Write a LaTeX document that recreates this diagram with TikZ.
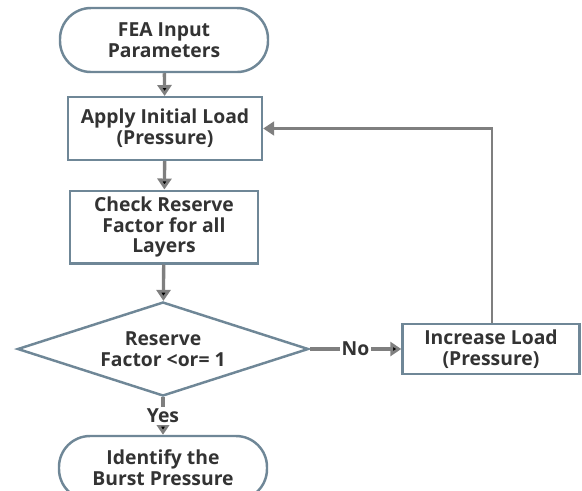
\documentclass[tikz,border=0pt]{standalone}
\usepackage{fontspec}
\setmainfont{Open Sans}
\usepackage{xcolor}
\usetikzlibrary{arrows.meta, shapes.geometric}
\definecolor{bd}{HTML}{6F8797}
\definecolor{ar}{HTML}{7F7F7F}
\definecolor{tx}{HTML}{333333}

\begin{document}
\begin{tikzpicture}[
            -{Triangle[length = 2.2mm, width = 2.8mm]}, % arrow head style
            node distance = 0.3cm, % distance between nodes
            font = \fontsize{11}{11.8}\selectfont\bfseries,
            text = tx
        ]

        \tikzstyle{every node}=[align = center]
        \tikzstyle{term}=[draw = bd, line width = 1.4pt, fill = white,
            rounded corners = 0.62cm, minimum width = 4.16cm, minimum height = 1.28cm]
        \tikzstyle{proc}=[draw = bd, line width = 1.4pt, fill = white]
        \tikzstyle{flow}=[draw = ar, line width = 1.9pt]

        \useasboundingbox (0, 0) rectangle (11.64, -9.8);

        \node[term] (input) [at={(3.28, -0.80)}] {FEA Input\\Parameters};
        \node[proc, minimum width = 3.88cm, minimum height = 1.25cm] (apply) [at={(3.30, -2.57)}] {Apply Initial Load\\(Pressure)};
        \node[proc, minimum width = 3.76cm, minimum height = 1.40cm] (check) [at={(3.28, -4.54)}] {Check Reserve\\Factor for all\\Layers};
        \node[proc, diamond, aspect = 3.1, inner sep = 0pt, minimum width = 5.82cm, minimum height = 1.88cm] (rf) [at={(3.26, -6.98)}] {Reserve\\Factor <or= 1};
        \node[proc, minimum width = 3.54cm, minimum height = 0.96cm] (incr) [at={(9.82, -6.98)}] {Increase Load\\(Pressure)};
        \node[term] (burst) [at={(3.26, -9.36)}] {Identify the\\Burst Pressure};
        \coordinate (turn) at (9.84, -2.57);

        \path[flow] (input) edge (apply);
        \path[flow] (apply) edge (check);
        \path[flow] (check) edge (rf);
        \path[flow] (rf) edge node[fill = white, inner sep = 1pt] {No} (incr);
        \path[flow] (rf) edge node[fill = white, inner sep = 1pt] {Yes} (burst);
        \draw[flow, line width = 1.2pt] (incr.north -| turn) |- (apply.east);
    \end{tikzpicture}
\end{document}
